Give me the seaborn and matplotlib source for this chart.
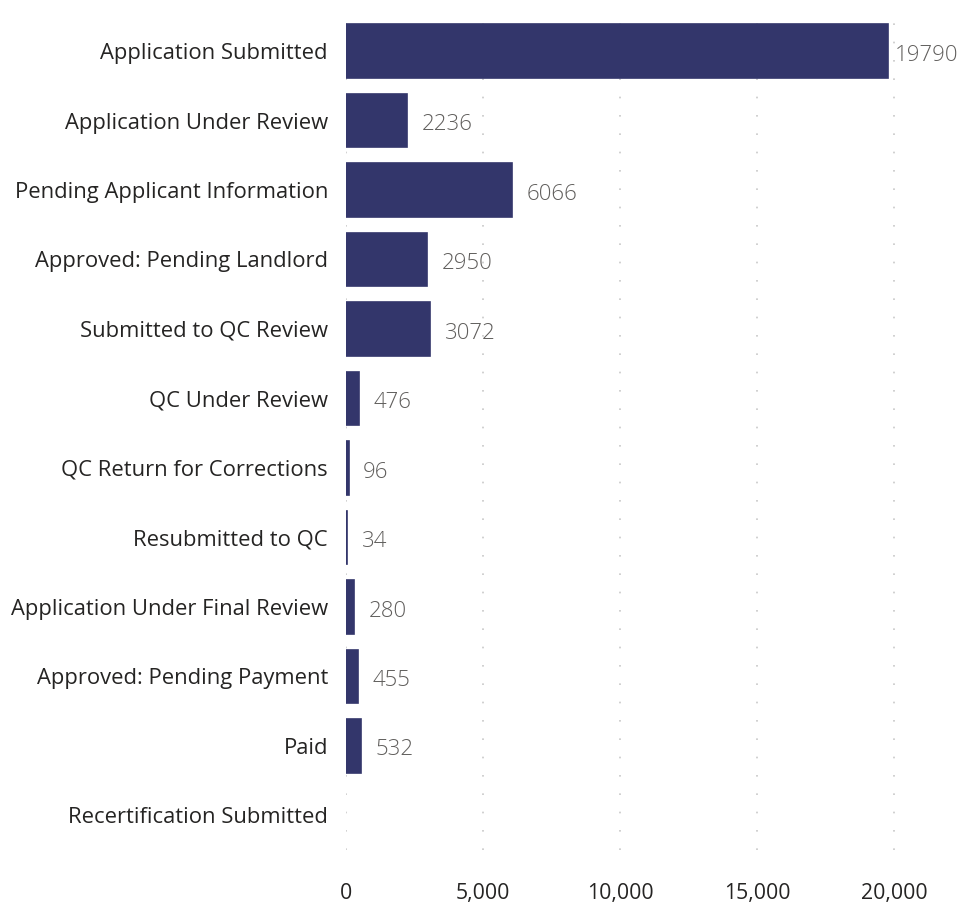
import matplotlib.pyplot as plt
import seaborn as sns
import pandas as pd

# statuses and counts
statuses = [
    "Application Submitted",
    "Application Under Review",
    "Pending Applicant Information",
    "Approved: Pending Landlord",
    "Submitted to QC Review",
    "QC Under Review",
    "QC Return for Corrections",
    "Resubmitted to QC",
    "Application Under Final Review",
    "Approved: Pending Payment",
    "Paid",
    "Recertification Submitted",
]
counts = [19790, 2236, 6066, 2950, 3072, 476, 96, 34, 280, 455, 532, 0]
x_ticks = [0, 5000, 10000, 15000, 20000]

df = pd.DataFrame({"status": statuses, "count": counts})

sns.set_style("white")
plt.rcParams["font.family"] = ["Open Sans", "DejaVu Sans"]

fig = plt.figure(figsize=(9.61, 9.08), dpi=100)
ax = fig.add_axes([346 / 961, 58 / 908, (945 - 346) / 961, 842 / 908])

bar_color = "#33366B"
sns.barplot(data=df, x="count", y="status", color=bar_color, width=0.77,
            saturation=1, ax=ax, orient="h", edgecolor=bar_color, linewidth=1.2)
# no outline on empty bars
for p in ax.patches:
    if p.get_width() == 0:
        p.set_linewidth(0)

ax.set_xlim(0, (945 - 346) / 548 * 20000)
ax.set_ylim(11.5, -0.62)
ax.set_xticks(x_ticks)
ax.set_xticklabels([f"{t:,}" for t in x_ticks], fontsize=15.3, color="#252423")
ax.tick_params(axis="y", labelsize=15.8, labelcolor="#252423", length=0, pad=13)
ax.tick_params(axis="x", length=0, pad=24)
ax.set_xlabel("")
ax.set_ylabel("")
for s in ax.spines.values():
    s.set_visible(False)
ax.grid(axis="x", color="#C8C8C8", linestyle=(0, (1, 10)), linewidth=1.2)
ax.set_axisbelow(True)

for i, v in enumerate(counts):
    if v > 0:
        # longest bar's label gets squeezed against the right edge
        off = 5 if v == max(counts) else 10.5
        ax.annotate(str(v), (v, i), xytext=(off, -3), textcoords="offset points",
                    va="center", ha="left", fontsize=16, color="#605E5C",
                    fontweight="light")

fig.savefig("out.png", dpi=100)
